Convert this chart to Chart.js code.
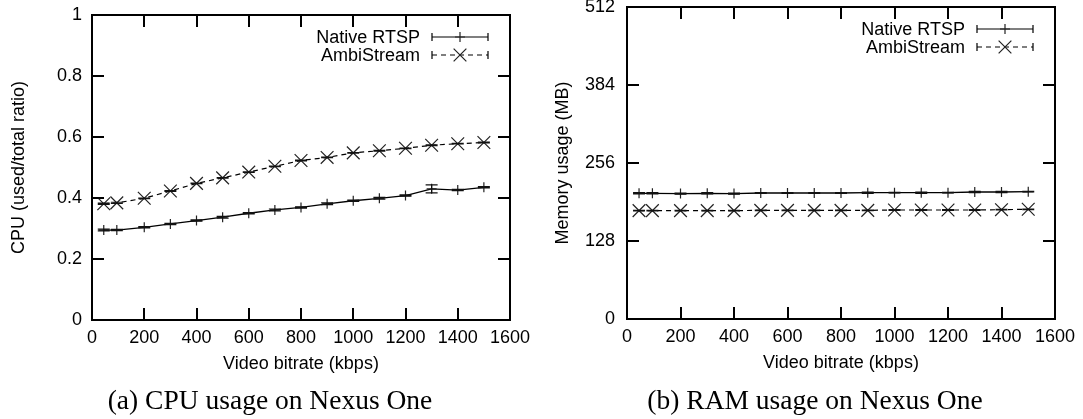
<!DOCTYPE html>
<html>
<head>
<meta charset="utf-8">
<script src="https://cdn.jsdelivr.net/npm/chart.js@4.4.0/dist/chart.umd.min.js"></script>
<style>
  body { margin: 0; background: #fff; width: 1083px; height: 419px; position: relative; overflow: hidden; }
  canvas { position: absolute; top: 0; }
  #cpu { left: 0; }
  #ram { left: 540px; }
  .caption { position: absolute; top: 384px; width: 400px; text-align: center;
             font-family: 'Liberation Serif', 'Times New Roman', serif; font-size: 27.5px; color: #000; }
</style>
</head>
<body>
<canvas id="cpu" width="540" height="419"></canvas>
<canvas id="ram" width="543" height="419"></canvas>
<div class="caption" style="left:70px">(a) CPU usage on Nexus One</div>
<div class="caption" style="left:615px">(b) RAM usage on Nexus One</div>
<script>
var seriesNames = ['Native RTSP', 'AmbiStream'];
var bitrate = [45, 95, 200, 300, 400, 500, 600, 700, 800, 900, 1000, 1100, 1200, 1300, 1400, 1500];

var cpuNative = [0.295, 0.295, 0.304, 0.315, 0.326, 0.337, 0.350, 0.361, 0.369, 0.381, 0.391, 0.399, 0.408, 0.430, 0.426, 0.435];
var cpuNativeErr = [0.003, 0.002, 0.002, 0.002, 0.002, 0.003, 0.002, 0.003, 0.002, 0.003, 0.002, 0.003, 0.002, 0.013, 0.002, 0.002];
var cpuAmbi = [0.381, 0.384, 0.399, 0.423, 0.448, 0.466, 0.485, 0.504, 0.523, 0.533, 0.548, 0.555, 0.563, 0.573, 0.578, 0.582];
var cpuAmbiErr = [0.002, 0.002, 0.001, 0.001, 0.001, 0.001, 0.001, 0.001, 0.001, 0.001, 0.001, 0.001, 0.001, 0.001, 0.001, 0.001];

var ramNative = [206.3, 206.3, 205.8, 206.3, 205.8, 206.8, 206.8, 206.8, 206.8, 207.3, 207.3, 207.3, 207.3, 208.4, 208.4, 209.0];
var ramNativeErr = [1, 1, 1, 1, 1, 0.5, 0.5, 0.5, 0.5, 1, 0.5, 1, 0.5, 1, 1, 0.5];
var ramAmbi = [177.8, 177.8, 177.8, 177.8, 177.8, 178.3, 178.3, 178.3, 178.3, 178.3, 178.9, 178.9, 178.9, 178.9, 179.4, 180.0];
var ramAmbiErr = [0.5, 0.5, 0.5, 0.5, 0.5, 0.5, 0.5, 0.5, 0.5, 0.5, 0.5, 0.5, 0.5, 0.5, 0.5, 0.5];

var xTicks = [0, 200, 400, 600, 800, 1000, 1200, 1400, 1600];
var cpuTicks = [0, 0.2, 0.4, 0.6, 0.8, 1];
var ramTicks = [0, 128, 256, 384, 512];

var sans = "'Liberation Sans', Arial, sans-serif";
Chart.defaults.font.family = sans;
Chart.defaults.font.size = 18;
Chart.defaults.color = '#000';

function points(ys) {
    return bitrate.map(function (x, i) { return { x: x, y: ys[i] }; });
}

// gnuplot-like frame: border, inward mirrored ticks, error bars, key
var gnuplotFrame = {
    id: 'gnuplotFrame',
    afterDatasetsDraw: function (chart) {
        var ctx = chart.ctx, a = chart.chartArea;
        var xs = chart.scales.x, ys = chart.scales.y;
        ctx.save();

        // error bars
        ctx.strokeStyle = '#111';
        ctx.lineWidth = 1.2;
        chart.data.datasets.forEach(function (ds) {
            ds.data.forEach(function (p, i) {
                var e = ds.errors[i];
                var px = xs.getPixelForValue(p.x);
                var y1 = ys.getPixelForValue(p.y - e), y2 = ys.getPixelForValue(p.y + e);
                ctx.beginPath();
                ctx.moveTo(px, y1); ctx.lineTo(px, y2);
                ctx.moveTo(px - 6, y1); ctx.lineTo(px + 6, y1);
                ctx.moveTo(px - 6, y2); ctx.lineTo(px + 6, y2);
                ctx.stroke();
            });
        });

        // border + ticks
        ctx.strokeStyle = '#000';
        ctx.lineWidth = 2;
        ctx.beginPath();
        xs.ticks.forEach(function (t) {
            var px = Math.round(xs.getPixelForValue(t.value));
            ctx.moveTo(px, a.bottom); ctx.lineTo(px, a.bottom - 12);
            ctx.moveTo(px, a.top); ctx.lineTo(px, a.top + 12);
        });
        ys.ticks.forEach(function (t) {
            var py = Math.round(ys.getPixelForValue(t.value));
            ctx.moveTo(a.left, py); ctx.lineTo(a.left + 12, py);
            ctx.moveTo(a.right, py); ctx.lineTo(a.right - 12, py);
        });
        ctx.stroke();
        ctx.strokeRect(a.left, a.top, a.right - a.left, a.bottom - a.top);

        // key
        ctx.font = '18px ' + sans;
        ctx.fillStyle = '#000';
        ctx.textAlign = 'right';
        ctx.textBaseline = 'middle';
        chart.data.datasets.forEach(function (ds, i) {
            var y = a.top + 22 + i * 18;
            var x1 = a.right - 78, x2 = a.right - 22, xm = (x1 + x2) / 2;
            ctx.fillText(ds.label, a.right - 90, y + 1);
            ctx.lineWidth = 1.2;
            ctx.strokeStyle = '#000';
            ctx.setLineDash(ds.borderDash || []);
            ctx.beginPath();
            ctx.moveTo(x1, y); ctx.lineTo(x2, y);
            ctx.stroke();
            ctx.setLineDash([]);
            ctx.beginPath();
            ctx.moveTo(x1, y - 4); ctx.lineTo(x1, y + 4);
            ctx.moveTo(x2, y - 4); ctx.lineTo(x2, y + 4);
            ctx.stroke();
            ctx.strokeStyle = '#222';
            Chart.helpers.drawPoint(ctx, {
                pointStyle: ds.pointStyle, radius: ds.pointRadius,
                rotation: 0, borderWidth: ds.pointBorderWidth
            }, xm, y);
        });
        ctx.restore();
    }
};

function makeChart(id, nat, natErr, amb, ambErr, yTicks, yTitle, pad, yWidth, yTitlePad, yTickPad) {
    var ctx = document.getElementById(id).getContext('2d');
    return new Chart(ctx, {
        type: 'line',
        data: {
            datasets: [{
                label: seriesNames[0],
                data: points(nat),
                errors: natErr,
                borderColor: '#000',
                borderWidth: 1.3,
                pointStyle: 'cross',
                pointRadius: 5,
                pointBorderWidth: 1.2,
                pointBorderColor: '#222',
                tension: 0,
                fill: false
            }, {
                label: seriesNames[1],
                data: points(amb),
                errors: ambErr,
                borderColor: '#000',
                borderWidth: 1.2,
                borderDash: [5, 4],
                pointStyle: 'crossRot',
                pointRadius: 9,
                pointBorderWidth: 1.2,
                pointBorderColor: '#222',
                tension: 0,
                fill: false
            }]
        },
        options: {
            responsive: false,
            animation: false,
            layout: { autoPadding: false, padding: pad },
            plugins: { legend: { display: false }, tooltip: { enabled: false } },
            scales: {
                x: {
                    type: 'linear',
                    min: 0, max: 1600,
                    grid: { display: false, drawTicks: false },
                    border: { display: false },
                    afterBuildTicks: function (s) { s.ticks = xTicks.map(function (v) { return { value: v }; }); },
                    afterFit: function (s) { s.height = 55; s.paddingLeft = 0; s.paddingRight = 0; },
                    ticks: { padding: 7, maxRotation: 0, autoSkip: false, font: { size: 18 },
                             callback: function (v) { return String(v); } },
                    title: { display: true, text: 'Video bitrate (kbps)', font: { size: 18 },
                             padding: { top: 0, bottom: 0 } }
                },
                y: {
                    type: 'linear',
                    min: yTicks[0], max: yTicks[yTicks.length - 1],
                    grid: { display: false, drawTicks: false },
                    border: { display: false },
                    afterBuildTicks: function (s) { s.ticks = yTicks.map(function (v) { return { value: v }; }); },
                    afterFit: function (s) { s.width = yWidth; s.paddingTop = 0; s.paddingBottom = 0; },
                    ticks: { padding: yTickPad, font: { size: 18 }, callback: function (v) { return String(v); } },
                    title: { display: true, text: yTitle, font: { size: 18 }, padding: { top: yTitlePad, bottom: 0 } }
                }
            }
        },
        plugins: [gnuplotFrame]
    });
}

makeChart('cpu', cpuNative, cpuNativeErr, cpuAmbi, cpuAmbiErr, cpuTicks, 'CPU (used/total ratio)',
    { top: 15, right: 30, bottom: 44, left: 0 }, 92, 8, 10);
makeChart('ram', ramNative, ramNativeErr, ramAmbi, ramAmbiErr, ramTicks, 'Memory usage (MB)',
    { top: 7, right: 28, bottom: 45, left: 0 }, 87, 12, 12);
</script>
</body>
</html>
